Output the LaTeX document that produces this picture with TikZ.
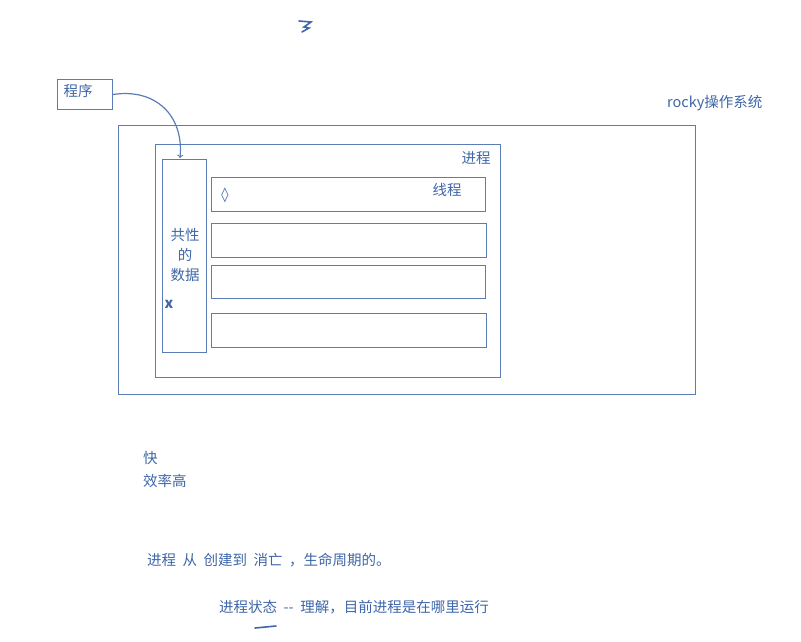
\documentclass[tikz,border=0pt]{standalone}
\usepackage{fontspec}
\setmainfont{Noto Sans CJK SC}
\definecolor{ink}{HTML}{3E66A8}
\begin{document}
\begin{tikzpicture}[x=1pt,y=-1pt,
  box/.style={draw=ink!85,line width=1pt},
  txt/.style={text=ink,font=\fontsize{14.5}{20}\selectfont,inner sep=0pt}]
\useasboundingbox (0,0) rectangle (801,641);
\node[box,minimum width=55pt,minimum height=30pt,anchor=north west] (prog) at (57,79) {};
\node[txt] at (78,91) {程序};
\draw[box] (118,125) rectangle (695,394);
\node[txt,anchor=west] at (667,103) {rocky操作系统};
\draw[box] (155,144) rectangle (500,377);
\node[txt] at (476,158) {进程};
\node[box,minimum width=44pt,minimum height=193pt,anchor=north west] (common) at (162,159) {};
\coordinate (tip) at (180,158);
\node[txt,align=center] at (185,255) {共性\\的\\数据};
\node[txt] at (169,304) {\textbf{x}};
\draw[box] (211,177) rectangle (485,211);
\node[txt] at (225,195) {\fontspec{DejaVu Sans}◊};
\node[txt] at (447,190) {线程};
\draw[box] (211,223) rectangle (486,257);
\draw[box] (211,265) rectangle (485,298);
\draw[box] (211,313) rectangle (486,347);
\draw[ink!85,line width=1.2pt,->] (prog.east) .. controls (155,88) and (184,115) .. (tip);
\draw[ink,line width=1.6pt,line cap=round] (299,21) -- (311,22) -- (304,27) -- (309,28) -- (302,32);
\node[txt,anchor=west] at (143,458) {快};
\node[txt,anchor=west] at (143,481) {效率高};
\node[txt,anchor=west] at (147,560) {进程\ \ 从\ \ 创建到\ \ 消亡\ \ ，生命周期的。};
\node[txt,anchor=west] at (219,607) {进程状态\ \ -{}-\ \ 理解，目前进程是在哪里运行};
\draw[ink,line width=1.6pt,line cap=round] (255,628) -- (276,626);
\end{tikzpicture}
\end{document}
